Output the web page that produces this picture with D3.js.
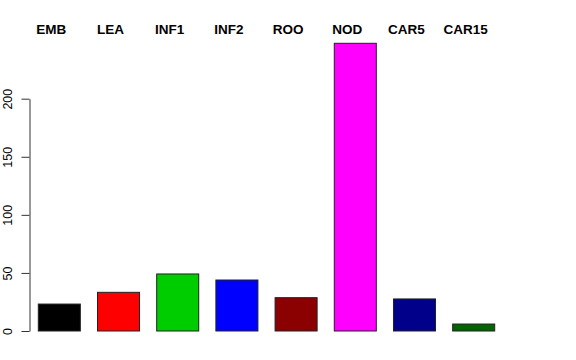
<!DOCTYPE html>
<html lang="en">
<head>
<meta charset="utf-8">
<script src="https://d3js.org/d3.v7.min.js"></script>
<style>
  body { margin: 0; background: #fff; }
  text { font-family: "Liberation Sans", Arial, sans-serif; }
</style>
</head>
<body>
<div id="chart"></div>
<script>

    // data
    const categories = ["EMB", "LEA", "INF1", "INF2", "ROO", "NOD", "CAR5", "CAR15"];
    const values = [23.2, 33.3, 49.1, 43.9, 28.7, 247.7, 27.6, 6.0];
    const colors = ["#000000", "#ff0000", "#00cd00", "#0000ff", "#8b0000", "#ff00ff", "#00008b", "#006400"];
    const yTicks = [0, 50, 100, 150, 200];

    const width = 576, height = 360;

    let svg = d3.select("#chart").append("svg")
      .attr("width", width)
      .attr("height", height);

    // x: bars from 38 to 495
    let x = d3.scaleBand()
      .domain(categories)
      .range([38.3, 494.7])
      .paddingInner(0.29)
      .paddingOuter(0);

    // y: 0 at 331, 200 at 98.7
    let y = d3.scaleLinear()
      .domain([0, 200])
      .range([331, 98.7]);

    // bars
    svg.selectAll("rect.bar")
      .data(values)
      .enter().append("rect")
      .attr("class", "bar")
      .attr("x", (d, i) => x(categories[i]))
      .attr("y", d => y(d))
      .attr("width", x.bandwidth())
      .attr("height", d => y(0) - y(d))
      .attr("fill", (d, i) => colors[i])
      .attr("stroke", "#222")
      .attr("stroke-width", 1);

    // y axis
    let yAxis = svg.append("g")
      .attr("transform", "translate(29.5,0)")
      .call(d3.axisLeft(y).tickValues(yTicks).tickSize(8).tickSizeOuter(0).tickPadding(6));
    yAxis.select(".domain").attr("stroke", "#333");
    yAxis.selectAll(".tick line").attr("stroke", "#333");
    yAxis.selectAll(".tick text")
      .attr("font-size", 12.5)
      .attr("fill", "#000")
      .attr("transform", "rotate(-90)")
      .attr("x", 0)
      .attr("y", -17.5)
      .attr("dy", 0)
      .attr("text-anchor", "middle");

    // category labels at the top
    svg.selectAll("text.cat")
      .data(categories)
      .enter().append("text")
      .attr("class", "cat")
      .attr("x", d => x(d) + x.bandwidth() / 2 - 8)
      .attr("y", 34)
      .attr("text-anchor", "middle")
      .attr("font-size", 13.5)
      .attr("font-weight", "bold")
      .text(d => d);

</script>
</body>
</html>
